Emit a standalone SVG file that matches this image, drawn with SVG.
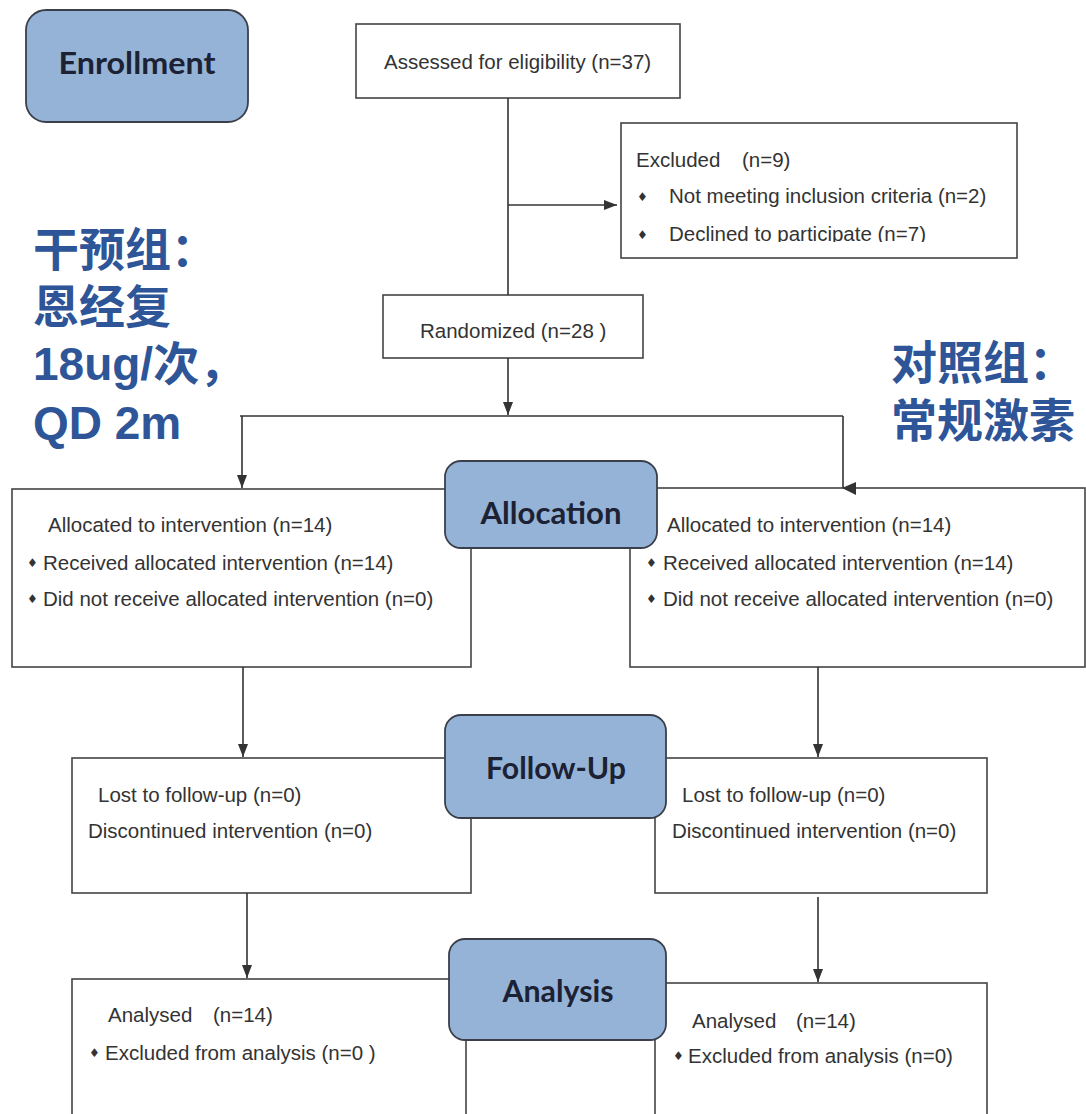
<svg xmlns="http://www.w3.org/2000/svg" width="1086" height="1114" viewBox="0 0 1086 1114">
<style>
.box{fill:#fff;stroke:#444;stroke-width:1.6}
.phase{fill:#95b3d7;stroke:#3a3f4a;stroke-width:1.8}
.ph{font-family:Lato,"Liberation Sans",sans-serif;font-weight:700;font-size:31px;fill:#1c2233;text-anchor:middle}
.t{font-family:"Liberation Sans",Arial,sans-serif;font-size:20.5px;fill:#333}
.b{font-family:"DejaVu Sans",sans-serif;font-size:12px;fill:#333}
.cn{font-family:"Liberation Sans","Noto Sans CJK SC",sans-serif;font-weight:700;font-size:46px;fill:#2e5597}
.ln{fill:none;stroke:#333;stroke-width:1.6}
</style>
<defs>
<marker id="ah" viewBox="0 0 13 10" refX="13" refY="5" markerWidth="13" markerHeight="10" markerUnits="userSpaceOnUse" orient="auto">
<path d="M0,0 L13,5 L0,10 z" fill="#333"/>
</marker>
<clipPath id="exclip"><rect x="621" y="123" width="396" height="119"/></clipPath>
</defs>
<rect width="1086" height="1114" fill="#fff"/>

<g id="enrollment">
<rect class="phase" x="26" y="10" width="222" height="112" rx="20"/>
<text class="ph" x="137" y="74" textLength="157" lengthAdjust="spacingAndGlyphs">Enrollment</text>
</g>

<g id="assessed">
<rect class="box" x="356" y="24" width="324" height="74"/>
<text class="t" x="384" y="69">Assessed for eligibility (n=37)</text>
</g>

<g id="excluded">
<rect class="box" x="621" y="123" width="396" height="135"/>
<text class="t" x="636" y="167">Excluded</text>
<text class="t" x="742" y="167">(n=9)</text>
<text class="b" x="637" y="201">♦</text>
<text class="t" x="669" y="203">Not meeting inclusion criteria (n=2)</text>
<text class="b" x="637" y="239">♦</text>
<text class="t" x="669" y="241" clip-path="url(#exclip)">Declined to participate (n=7)</text>
</g>

<g id="randomized">
<rect class="box" x="383" y="295" width="260" height="63"/>
<text class="t" x="420" y="338">Randomized (n=28 )</text>
</g>

<g id="note-intervention">
<text class="cn" x="33" y="266">干预组：</text>
<text class="cn" x="33" y="323">恩经复</text>
<text class="cn" x="33" y="380">18ug/次，</text>
<text class="cn" x="33" y="439">QD 2m</text>
</g>

<g id="note-control">
<text class="cn" x="891" y="379">对照组：</text>
<text class="cn" x="891" y="437">常规激素</text>
</g>

<g id="alloc-left">
<rect class="box" x="12" y="489" width="459" height="178"/>
<text class="t" x="48" y="532">Allocated to intervention (n=14)</text>
<text class="b" x="27" y="567">♦</text>
<text class="t" x="43" y="570">Received allocated intervention (n=14)</text>
<text class="b" x="27" y="603">♦</text>
<text class="t" x="43" y="606">Did not receive allocated intervention (n=0)</text>
</g>

<g id="alloc-right">
<rect class="box" x="630" y="488" width="455" height="179"/>
<text class="t" x="667" y="532">Allocated to intervention (n=14)</text>
<text class="b" x="646" y="567">♦</text>
<text class="t" x="663" y="570">Received allocated intervention (n=14)</text>
<text class="b" x="646" y="603">♦</text>
<text class="t" x="663" y="606">Did not receive allocated intervention (n=0)</text>
</g>

<g id="allocation">
<rect class="phase" x="445" y="461" width="212" height="87" rx="16"/>
<text class="ph" x="551" y="524" textLength="141" lengthAdjust="spacingAndGlyphs">Allocation</text>
</g>

<g id="follow-left">
<rect class="box" x="72" y="758" width="399" height="135"/>
<text class="t" x="98" y="802">Lost to follow-up (n=0)</text>
<text class="t" x="88" y="838">Discontinued intervention (n=0)</text>
</g>

<g id="follow-right">
<rect class="box" x="655" y="758" width="332" height="135"/>
<text class="t" x="682" y="802">Lost to follow-up (n=0)</text>
<text class="t" x="672" y="838">Discontinued intervention (n=0)</text>
</g>

<g id="followup">
<rect class="phase" x="445" y="715" width="221" height="103" rx="16"/>
<text class="ph" x="556" y="779" textLength="140" lengthAdjust="spacingAndGlyphs">Follow-Up</text>
</g>

<g id="analysis-left">
<rect class="box" x="72" y="979" width="394" height="150"/>
<text class="t" x="108" y="1022">Analysed</text>
<text class="t" x="213" y="1022">(n=14)</text>
<text class="b" x="89" y="1057">♦</text>
<text class="t" x="105" y="1060">Excluded from analysis (n=0 )</text>
</g>

<g id="analysis-right">
<rect class="box" x="655" y="983" width="332" height="150"/>
<text class="t" x="692" y="1028">Analysed</text>
<text class="t" x="796" y="1028">(n=14)</text>
<text class="b" x="673" y="1060">♦</text>
<text class="t" x="688" y="1063">Excluded from analysis (n=0)</text>
</g>

<g id="analysis">
<rect class="phase" x="449" y="939" width="217" height="101" rx="16"/>
<text class="ph" x="558" y="1002" textLength="111" lengthAdjust="spacingAndGlyphs">Analysis</text>
</g>

<g id="connectors">
<line class="ln" x1="508" y1="98" x2="508" y2="295"/>
<line class="ln" x1="508" y1="205" x2="617" y2="205" marker-end="url(#ah)"/>
<line class="ln" x1="508" y1="358" x2="508" y2="415" marker-end="url(#ah)"/>
<line class="ln" x1="240" y1="416" x2="843" y2="416"/>
<line class="ln" x1="242" y1="416" x2="242" y2="488" marker-end="url(#ah)"/>
<line class="ln" x1="843" y1="416" x2="843" y2="488"/>
<polygon points="842,488 856,482 856,495" fill="#333"/>
<line class="ln" x1="243" y1="667" x2="243" y2="757" marker-end="url(#ah)"/>
<line class="ln" x1="818" y1="667" x2="818" y2="757" marker-end="url(#ah)"/>
<line class="ln" x1="247" y1="893" x2="247" y2="978" marker-end="url(#ah)"/>
<line class="ln" x1="818" y1="897" x2="818" y2="982" marker-end="url(#ah)"/>
</g>
</svg>
